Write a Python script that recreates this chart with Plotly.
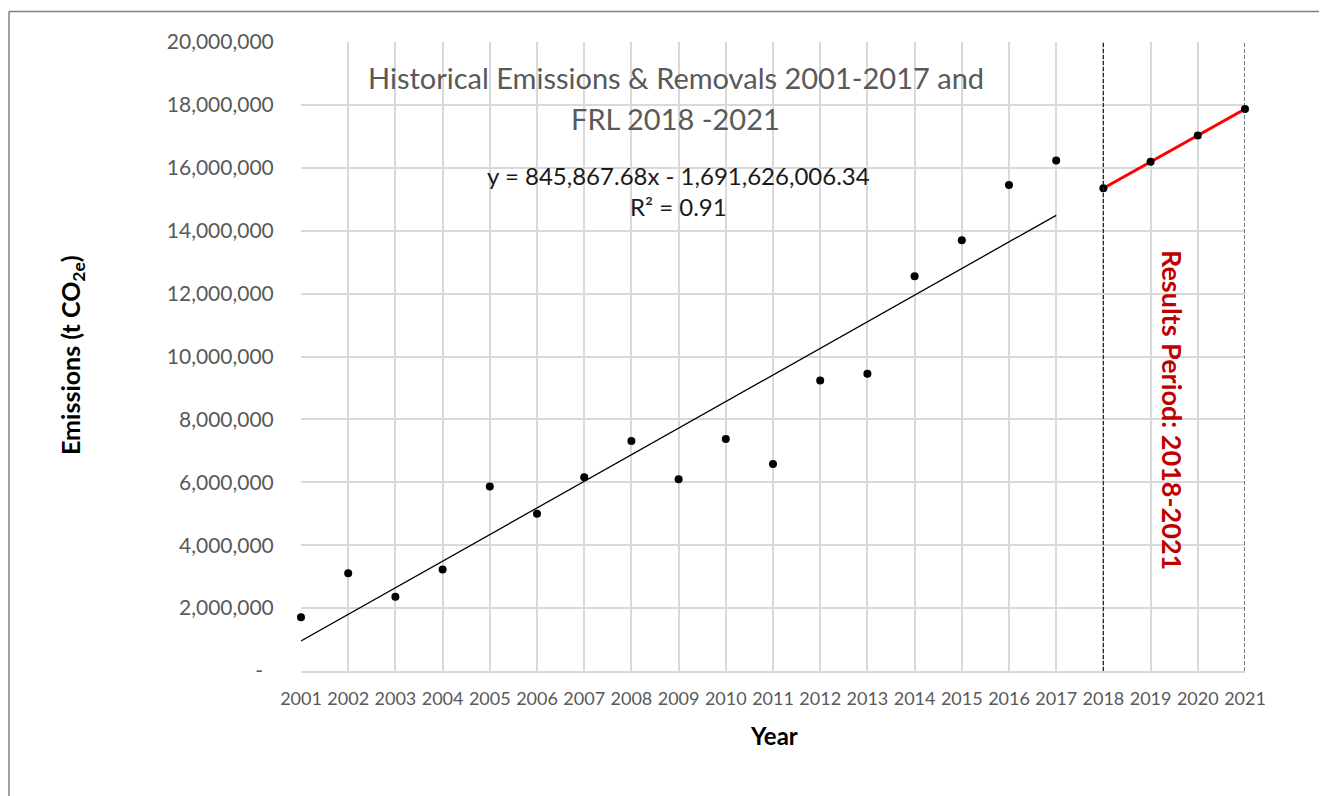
import plotly.graph_objects as go

# ---------------- data ----------------
hist_years = list(range(2001, 2018))
hist_emissions = [1710000, 3110000, 2360000, 3230000, 5870000, 5000000, 6160000,
                  7310000, 6100000, 7380000, 6580000, 9240000, 9450000,
                  12550000, 13700000, 15450000, 16230000]

frl_years = [2018, 2019, 2020, 2021]
frl_emissions = [15350000, 16190000, 17030000, 17870000]

trend_slope = 845867.68
trend_intercept = -1691626006.34
trend_years = [2001, 2017]
trend_values = [trend_slope * y + trend_intercept for y in trend_years]

results_period = [2018, 2021]

y_tickvals = list(range(0, 20000001, 2000000))
y_ticktext = ["-\u00a0\u00a0"] + [f"{v:,}" for v in y_tickvals[1:]]
x_tickvals = list(range(2001, 2022))

FONT = "Lato"
GRID = "#d9d9d9"
TXT = "#595959"

fig = go.Figure()

fig.add_trace(go.Scatter(x=trend_years, y=trend_values, mode="lines",
                         line=dict(color="black", width=1.3), hoverinfo="skip",
                         showlegend=False))
fig.add_trace(go.Scatter(x=frl_years, y=frl_emissions, mode="lines",
                         line=dict(color="#ff0000", width=3), showlegend=False,
                         cliponaxis=False))
fig.add_trace(go.Scatter(x=hist_years + frl_years, y=hist_emissions + frl_emissions,
                         mode="markers", marker=dict(color="black", size=8),
                         showlegend=False, cliponaxis=False))

for xv in results_period:
    fig.add_shape(type="line", xref="x", yref="paper", x0=xv, x1=xv, y0=0, y1=1,
                  line=dict(color="#262626", width=1.2, dash="4px,2px"))

# outer frame (left and top edges visible)
fx = -0.3093
fy = 1.0485
fig.add_shape(type="line", xref="paper", yref="paper", x0=fx, x1=fx, y0=-1, y1=fy,
              line=dict(color="#808080", width=1.5))
fig.add_shape(type="line", xref="paper", yref="paper", x0=fx, x1=2, y0=fy, y1=fy,
              line=dict(color="#808080", width=1.5))

annotations = [
    dict(text="Historical Emissions & Removals 2001-2017 and", x=0.397, y=0.943,
         font=dict(size=29, color=TXT, family=FONT)),
    dict(text="FRL 2018 -2021", x=0.397, y=0.879,
         font=dict(size=29, color=TXT, family=FONT)),
    dict(text="y = 845,867.68x - 1,691,626,006.34", x=0.4004, y=0.787,
         font=dict(size=24, color="#1a1a1a", family=FONT)),
    dict(text="R² = 0.91", x=0.4004, y=0.738,
         font=dict(size=24, color="#1a1a1a", family=FONT)),
    dict(text="<b>Emissions (t CO<sub>2e</sub>)</b>", x=-0.2426, y=0.5024, textangle=-90,
         font=dict(size=25, color="black", family=FONT)),
    dict(text="<b>Year</b>", x=0.501, y=-0.1033,
         font=dict(size=24, color="black", family=FONT)),
    dict(text="<b>Results Period: 2018-2021</b>", x=0.9227, y=0.415, textangle=90,
         font=dict(size=27, color="#c00000", family=FONT)),
]
for a in annotations:
    a.update(xref="paper", yref="paper", showarrow=False, xanchor="center", yanchor="middle")
fig.update_layout(annotations=annotations)

fig.update_xaxes(range=[2001, 2021], tickvals=x_tickvals, showgrid=True, gridcolor=GRID,
                 gridwidth=1.5, showline=True, linecolor=GRID, linewidth=1.5, zeroline=False,
                 ticks="outside", ticklen=11, tickcolor="rgba(0,0,0,0)",
                 tickfont=dict(size=18, color=TXT, family=FONT))
fig.update_yaxes(range=[0, 20000000], tickvals=y_tickvals, ticktext=y_ticktext,
                 showgrid=True, gridcolor=GRID, gridwidth=1.5, zeroline=False,
                 showline=False, ticks="outside", ticklen=22, tickcolor="rgba(0,0,0,0)",
                 tickfont=dict(size=21, color=TXT, family=FONT))

# the page body adds an 8px offset, so the margins are shifted to compensate
fig.update_layout(width=1327, height=796, plot_bgcolor="white", paper_bgcolor="white",
                  margin=dict(l=293, r=90, t=34, b=133), font=dict(family=FONT))

fig.write_html("out.html")
